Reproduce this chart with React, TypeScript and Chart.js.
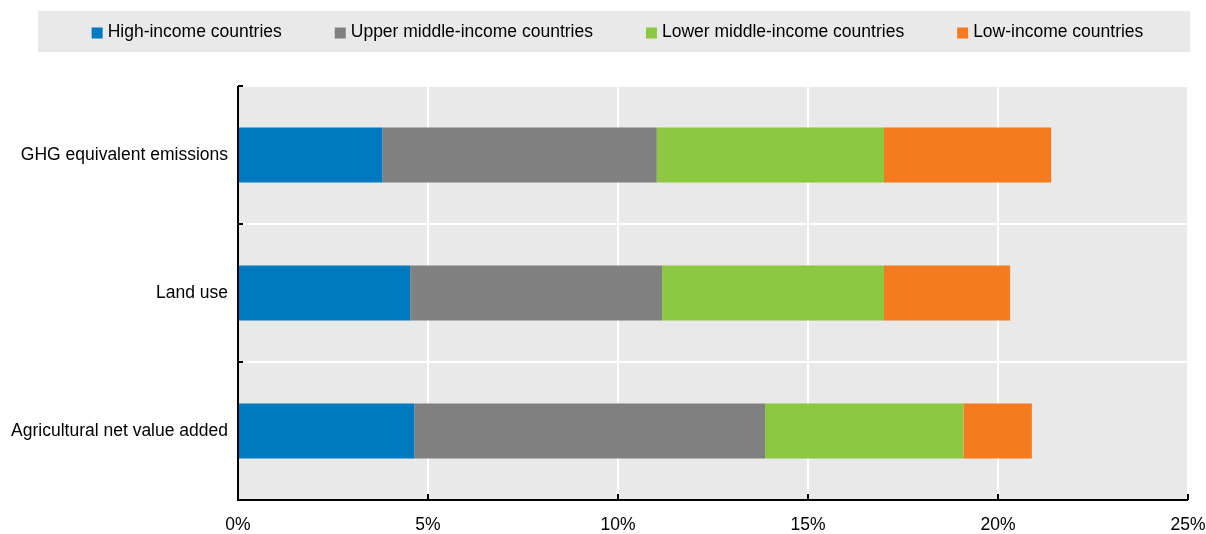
import React, { useEffect, useRef } from "react";
import { Chart, registerables } from "chart.js";

Chart.register(...registerables);

const categories = ["GHG equivalent emissions", "Land use", "Agricultural net value added"];
const seriesNames = [
  "High-income countries",
  "Upper middle-income countries",
  "Lower middle-income countries",
  "Low-income countries",
];
const highIncome = [3.8, 4.53, 4.64];
const upperMiddle = [7.22, 6.63, 9.23];
const lowerMiddle = [5.98, 5.84, 5.22];
const lowIncome = [4.4, 3.32, 1.8];
const seriesColors = ["#0079c0", "#808080", "#8cc841", "#f47b20"];
const xTicks = [0, 5, 10, 15, 20, 25];

const FONT = "'Liberation Sans', Arial, sans-serif";
const FONT_SIZE = 17.5;

const bgPlugin = {
  id: "plotBg",
  beforeDraw(chart: any) {
    const { ctx, chartArea } = chart;
    ctx.save();
    ctx.fillStyle = "#e9e9e9";
    ctx.fillRect(chartArea.left, chartArea.top, chartArea.right - chartArea.left, chartArea.bottom - chartArea.top);
    ctx.restore();
  },
  afterDraw(chart: any) {
    const { ctx, chartArea } = chart;
    const x = chart.scales.x;
    const y = chart.scales.y;
    ctx.save();
    ctx.strokeStyle = "#000";
    ctx.lineWidth = 2;
    ctx.beginPath();
    ctx.moveTo(chartArea.left, chartArea.top);
    ctx.lineTo(chartArea.left, chartArea.bottom);
    ctx.lineTo(chartArea.right, chartArea.bottom);
    ctx.stroke();
    const n = chart.data.labels.length;
    for (let i = 0; i <= n; i++) {
      const py = Math.round(y.getPixelForValue(i - 0.5));
      ctx.beginPath();
      ctx.moveTo(chartArea.left, py);
      ctx.lineTo(chartArea.left + 5, py);
      ctx.stroke();
    }
    for (const v of xTicks) {
      if (v === 0) continue;
      const px = Math.round(x.getPixelForValue(v));
      ctx.beginPath();
      ctx.moveTo(px, chartArea.bottom);
      ctx.lineTo(px, chartArea.bottom - 6);
      ctx.stroke();
    }
    ctx.restore();

    // legend
    ctx.save();
    ctx.fillStyle = "#e9e9e9";
    ctx.fillRect(38, 11, 1152, 41);
    ctx.font = `${FONT_SIZE}px ${FONT}`;
    ctx.textBaseline = "middle";
    const box = 11;
    const gapText = 5;
    const gapItem = 53;
    const ds = chart.data.datasets;
    const widths = ds.map((d: any) => box + gapText + ctx.measureText(d.label).width);
    const total = widths.reduce((a: number, b: number) => a + b, 0) + gapItem * (ds.length - 1);
    let cx = 617.5 - total / 2;
    const cy = 32;
    ds.forEach((d: any, i: number) => {
      ctx.fillStyle = d.backgroundColor;
      ctx.fillRect(cx, cy - box / 2 + 1, box, box);
      ctx.fillStyle = "#000";
      ctx.fillText(d.label, cx + box + gapText, cy);
      cx += widths[i] + gapItem;
    });
    ctx.restore();
  },
};

export default function App() {
  const ref = useRef<HTMLCanvasElement | null>(null);
  useEffect(() => {
    document.body.style.margin = "0";
    const values = [highIncome, upperMiddle, lowerMiddle, lowIncome];
    const chart = new Chart(ref.current as HTMLCanvasElement, {
      type: "bar",
      data: {
        labels: categories,
        datasets: seriesNames.map((name, i) => ({
          label: name,
          data: values[i],
          backgroundColor: seriesColors[i],
          borderWidth: 0,
          categoryPercentage: 1,
          barPercentage: 0.4,
        })),
      },
      options: {
        indexAxis: "y",
        animation: false,
        responsive: false,
        maintainAspectRatio: false,
        layout: { padding: { top: 86, right: 18, left: 0, bottom: 0 } },
        plugins: { legend: { display: false }, tooltip: { enabled: false } },
        scales: {
          x: {
            stacked: true,
            min: 0,
            max: 25,
            afterBuildTicks: (scale: any) => {
              scale.ticks = xTicks.map((v) => ({ value: v }));
            },
            afterFit: (scale: any) => {
              scale.height = 34;
              scale.paddingLeft = 0;
              scale.paddingRight = 0;
            },
            grid: { color: "#ffffff", lineWidth: 2, drawTicks: false },
            border: { display: false },
            ticks: {
              padding: 15,
              color: "#000",
              font: { family: FONT, size: FONT_SIZE },
              callback: (v: any) => `${v}%`,
            },
          },
          y: {
            stacked: true,
            afterFit: (scale: any) => {
              scale.width = 238;
            },
            grid: { color: "#ffffff", lineWidth: 2, drawTicks: false, offset: true },
            border: { display: false },
            ticks: {
              padding: 10,
              color: "#000",
              font: { family: FONT, size: FONT_SIZE },
            },
          },
        },
      },
      plugins: [bgPlugin],
    } as any);
    return () => chart.destroy();
  }, []);
  return (
    <div style={{ width: 1206, height: 534 }}>
      <canvas ref={ref} width={1206} height={534} style={{ display: "block" }} />
    </div>
  );
}
